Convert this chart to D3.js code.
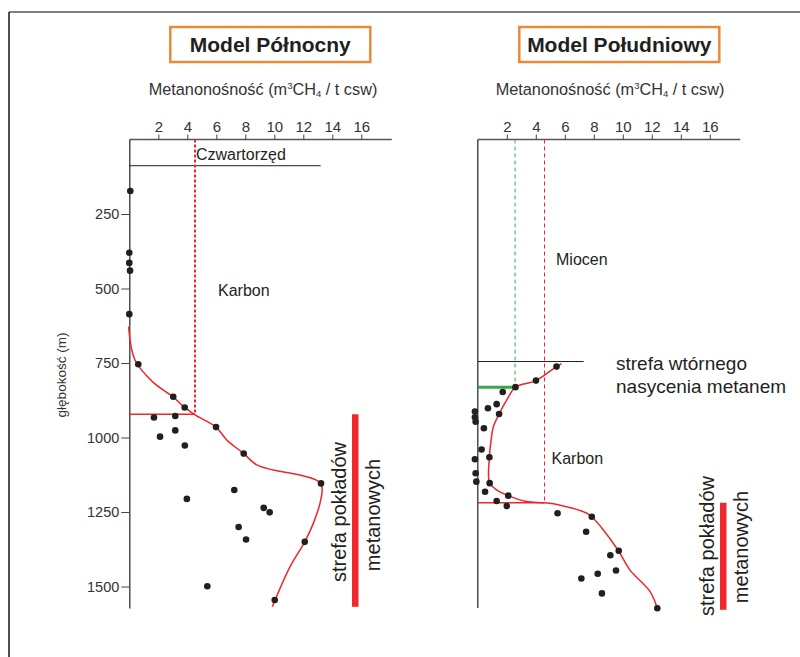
<!DOCTYPE html>
<html>
<head>
<meta charset="utf-8">
<script src="https://cdn.jsdelivr.net/npm/d3@7"></script>
<style>
  html, body { margin: 0; padding: 0; background: #fff; }
  svg { display: block; font-family: "Liberation Sans", Arial, sans-serif; }
</style>
</head>
<body>
<svg id="chart" width="800" height="657"></svg>
<script>
// ---------- data ----------
const titles = ["Model Północny", "Model Południowy"];
const xTicks = [2, 4, 6, 8, 10, 12, 14, 16];
const yTicks = [250, 500, 750, 1000, 1250, 1500];
const xLabel = "Metanonośność";
const yLabel = "głębokość (m)";

// North model: measured points [methane content, depth]
const northPoints = [
  [0.07, 173], [0.0, 380], [0.0, 414], [0.05, 440], [0.0, 586],
  [0.62, 754], [3.03, 863], [3.82, 899], [1.70, 933], [3.17, 928],
  [2.12, 997], [3.17, 976], [3.83, 1027], [5.98, 965], [7.89, 1054],
  [13.22, 1154], [7.24, 1176], [3.97, 1206], [9.27, 1236], [9.68, 1251],
  [7.54, 1300], [8.05, 1342], [12.1, 1350], [5.38, 1499], [10.03, 1545]
];
// North model: trend curve
const northCurve = [
  [-0.05, 628], [0.39, 740], [1.63, 814], [3.0, 863], [3.82, 899],
  [4.53, 924], [5.98, 965], [6.72, 1008], [7.89, 1054], [8.79, 1092],
  [9.93, 1109], [11.77, 1126], [12.9, 1143], [13.22, 1154], [13.3, 1176],
  [13.15, 1221], [12.69, 1288], [12.1, 1350], [11.08, 1434], [9.86, 1568]
];
const northQuaternaryDepth = 88, northQuaternaryEnd = 13.2;
const northLimit = 4.53, northLimitDepth = 922;
const northZone = [922, 1568];

// South model
const southPoints = [
  [5.43, 762], [4.01, 809], [2.6, 831], [1.72, 847], [1.3, 888],
  [0.7, 902], [1.47, 921], [-0.2, 913], [-0.2, 932], [-0.15, 947],
  [0.42, 969], [0.26, 1040], [-0.2, 1073], [0.8, 1066], [-0.15, 1120],
  [-0.1, 1148], [0.82, 1153], [0.5, 1182], [2.1, 1195], [1.3, 1213],
  [2.0, 1230], [5.5, 1254], [7.86, 1266], [7.47, 1316], [9.72, 1380],
  [9.14, 1395], [9.53, 1446], [8.27, 1457], [7.14, 1473], [8.56, 1523],
  [12.38, 1573]
];
const southCurve = [
  [5.78, 752], [5.43, 762], [4.01, 809], [2.6, 831], [2.0, 874],
  [1.47, 921], [1.08, 963], [0.92, 1008], [0.8, 1066], [0.8, 1150],
  [1.2, 1172], [2.1, 1195], [3.37, 1215], [4.6, 1219], [5.68, 1227],
  [7.52, 1254], [7.86, 1266], [8.66, 1310], [9.7, 1380], [10.5, 1445],
  [11.88, 1517], [12.38, 1573]
];
const southMioceneDepth = 745, southMioceneEnd = 7.3;
const southSecondary = 2.57, southSecondaryDepth = 831;
const southLimit = 4.6, southLimitDepth = 1219;
const southZone = [1219, 1578];

// ---------- drawing ----------
const svg = d3.select("#chart");
const FONT = '"Liberation Sans", Arial, sans-serif';
const RED = "#e8282d", DARK = "#231f20", ORANGE = "#e98a3b", GREEN = "#3aa64a";

// frame
svg.append("line").attr("x1", 9).attr("y1", 12).attr("x2", 800).attr("y2", 12)
  .attr("stroke", "#555").attr("stroke-width", 1.6);
svg.append("line").attr("x1", 9).attr("y1", 12).attr("x2", 9).attr("y2", 657)
  .attr("stroke", "#222").attr("stroke-width", 1.6);

const y = d3.scaleLinear().domain([0, 1572]).range([139.5, 608]);

function panel(x0, title, titleCx, labelCx, showY) {
  const x = d3.scaleLinear().domain([0, 18]).range([x0, x0 + 18 * 14.5]);
  const g = svg.append("g");

  // title box
  g.append("rect").attr("x", titleCx - 100).attr("y", 27).attr("width", 200).attr("height", 35)
    .attr("fill", "none").attr("stroke", ORANGE).attr("stroke-width", 2.5);
  g.append("text").attr("x", titleCx).attr("y", 52).attr("text-anchor", "middle")
    .attr("font-size", 21).attr("font-weight", "bold").attr("fill", DARK).text(title);

  // x label with super/subscripts
  const lab = g.append("text").attr("x", labelCx).attr("y", 95).attr("text-anchor", "middle")
    .attr("font-size", 16.3).attr("fill", "#333");
  lab.append("tspan").text(xLabel + " (m");
  lab.append("tspan").attr("font-size", 9.5).attr("dy", -6).text("3");
  lab.append("tspan").attr("dy", 6).text("CH");
  lab.append("tspan").attr("font-size", 9.5).attr("dy", 2).text("4");
  lab.append("tspan").attr("dy", -2).text(" / t csw)");

  // top axis
  const ax = g.append("g").attr("transform", `translate(0,${y(0)})`)
    .call(d3.axisTop(x).tickValues(xTicks).tickSize(5).tickSizeOuter(0).tickPadding(3));
  ax.select(".domain").attr("stroke", "#555").attr("stroke-width", 1.3)
    .attr("d", `M${x(0)},0H${x(18.1)}`);
  ax.selectAll(".tick line").attr("stroke", "#444");
  ax.selectAll(".tick text").attr("font-family", FONT).attr("font-size", 15).attr("fill", "#333");

  // left axis
  if (showY) {
    const ay = g.append("g").attr("transform", `translate(${x(0)},0)`)
      .call(d3.axisLeft(y).tickValues(yTicks).tickFormat(d3.format("d"))
        .tickSize(8).tickSizeOuter(0).tickPadding(2));
    ay.select(".domain").attr("stroke", "#333").attr("stroke-width", 1.3);
    ay.selectAll(".tick line").attr("stroke", "#444");
    ay.selectAll(".tick text").attr("font-family", FONT).attr("font-size", 14.5).attr("fill", "#333");
  } else {
    g.append("line").attr("x1", x(0)).attr("x2", x(0)).attr("y1", y(0)).attr("y2", y(1572))
      .attr("stroke", "#333").attr("stroke-width", 1.3);
  }
  return { g, x };
}

// ----- North -----
const N = panel(129.3, titles[0], 270.3, 263, true);
{
  const { g, x } = N;
  g.append("line").attr("x1", x(0)).attr("x2", x(northQuaternaryEnd))
    .attr("y1", y(northQuaternaryDepth)).attr("y2", y(northQuaternaryDepth))
    .attr("stroke", DARK).attr("stroke-width", 1);
  g.append("text").attr("x", 196).attr("y", 160).attr("font-size", 16).attr("fill", DARK).text("Czwartorzęd");
  g.append("text").attr("x", 218).attr("y", 296).attr("font-size", 16).attr("fill", DARK).text("Karbon");
  g.append("line").attr("x1", x(northLimit)).attr("x2", x(northLimit))
    .attr("y1", y(0)).attr("y2", y(northLimitDepth))
    .attr("stroke", RED).attr("stroke-width", 2).attr("stroke-dasharray", "3,2");
  g.append("line").attr("x1", x(0)).attr("x2", x(northLimit))
    .attr("y1", y(northLimitDepth)).attr("y2", y(northLimitDepth))
    .attr("stroke", RED).attr("stroke-width", 1.6);
  const line = d3.line().x(d => x(d[0])).y(d => y(d[1])).curve(d3.curveCatmullRom.alpha(0.5));
  g.append("path").attr("d", line(northCurve)).attr("fill", "none").attr("stroke", RED).attr("stroke-width", 1.5);
  g.selectAll("circle.pt").data(northPoints).join("circle").attr("class", "pt")
    .attr("cx", d => x(d[0])).attr("cy", d => y(d[1])).attr("r", 3.3).attr("fill", DARK);
  // zone bar
  g.append("rect").attr("x", 352).attr("width", 6.5)
    .attr("y", y(northZone[0])).attr("height", y(northZone[1]) - y(northZone[0])).attr("fill", "#ee2a2f");
  g.append("text").attr("transform", `translate(346,512) rotate(-90)`).attr("text-anchor", "middle")
    .attr("font-size", 20).attr("fill", DARK).text("strefa pokładów");
  g.append("text").attr("transform", `translate(380,515) rotate(-90)`).attr("text-anchor", "middle")
    .attr("font-size", 20).attr("fill", DARK).text("metanowych");
}

// y label
svg.append("text").attr("transform", "translate(66,375) rotate(-90)").attr("text-anchor", "middle")
  .attr("font-size", 13.5).attr("fill", "#333").text(yLabel);

// ----- South -----
const S = panel(477.8, titles[1], 619.3, 610, false);
{
  const { g, x } = S;
  g.append("line").attr("x1", x(0)).attr("x2", x(southMioceneEnd))
    .attr("y1", y(southMioceneDepth)).attr("y2", y(southMioceneDepth))
    .attr("stroke", DARK).attr("stroke-width", 1);
  g.append("text").attr("x", 556).attr("y", 265).attr("font-size", 16).attr("fill", DARK).text("Miocen");
  g.append("text").attr("x", 551.5).attr("y", 464).attr("font-size", 16).attr("fill", DARK).text("Karbon");
  g.append("text").attr("x", 616).attr("y", 370).attr("font-size", 19).attr("fill", DARK).text("strefa wtórnego");
  g.append("text").attr("x", 616).attr("y", 393).attr("font-size", 19).attr("fill", DARK).text("nasycenia metanem");
  g.append("line").attr("x1", x(southSecondary)).attr("x2", x(southSecondary))
    .attr("y1", y(0)).attr("y2", y(southSecondaryDepth))
    .attr("stroke", GREEN).attr("stroke-width", 1).attr("stroke-dasharray", "4,3");
  g.append("line").attr("x1", x(southLimit)).attr("x2", x(southLimit))
    .attr("y1", y(0)).attr("y2", y(southLimitDepth))
    .attr("stroke", RED).attr("stroke-width", 1).attr("stroke-dasharray", "4,3");
  g.append("line").attr("x1", x(0)).attr("x2", x(southSecondary))
    .attr("y1", y(southSecondaryDepth)).attr("y2", y(southSecondaryDepth))
    .attr("stroke", GREEN).attr("stroke-width", 3);
  g.append("line").attr("x1", x(0)).attr("x2", x(southLimit))
    .attr("y1", y(southLimitDepth)).attr("y2", y(southLimitDepth))
    .attr("stroke", RED).attr("stroke-width", 1.5);
  const line = d3.line().x(d => x(d[0])).y(d => y(d[1])).curve(d3.curveCatmullRom.alpha(0.5));
  g.append("path").attr("d", line(southCurve)).attr("fill", "none").attr("stroke", RED).attr("stroke-width", 1.5);
  g.selectAll("circle.pt").data(southPoints).join("circle").attr("class", "pt")
    .attr("cx", d => x(d[0])).attr("cy", d => y(d[1])).attr("r", 3.3).attr("fill", DARK);
  g.append("rect").attr("x", 720).attr("width", 6.5)
    .attr("y", y(southZone[0])).attr("height", y(southZone[1]) - y(southZone[0])).attr("fill", "#ee2a2f");
  g.append("text").attr("transform", `translate(714,546) rotate(-90)`).attr("text-anchor", "middle")
    .attr("font-size", 20).attr("fill", DARK).text("strefa pokładów");
  g.append("text").attr("transform", `translate(748,547) rotate(-90)`).attr("text-anchor", "middle")
    .attr("font-size", 20).attr("fill", DARK).text("metanowych");
}
</script>
</body>
</html>
